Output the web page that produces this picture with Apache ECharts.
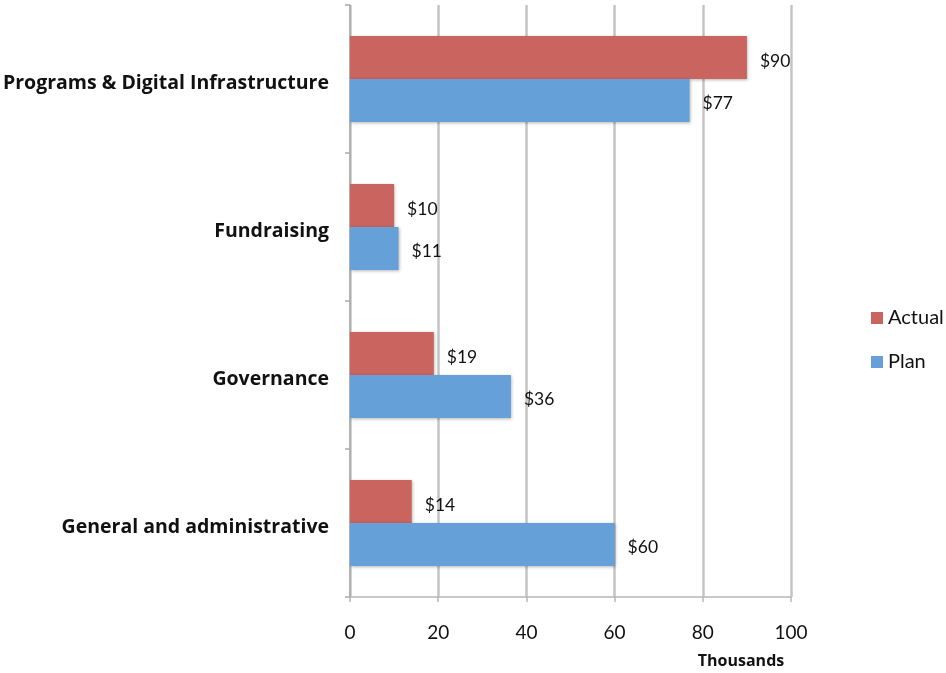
<!DOCTYPE html>
<html>
<head>
<meta charset="utf-8">
<script src="https://cdn.jsdelivr.net/npm/echarts@6/dist/echarts.min.js"></script>
<style>html,body{margin:0;padding:0;background:#fff;}#c{width:946px;height:673px;}</style>
</head>
<body>
<div id="c"></div>
<script>
const categories = ['Programs & Digital Infrastructure', 'Fundraising', 'Governance', 'General and administrative'];
const actualValues = [90, 10, 19, 14];
const planValues = [77, 11, 36.5, 60];
const actualLabels = ['$90', '$10', '$19', '$14'];
const planLabels = ['$77', '$11', '$36', '$60'];
const xTicks = [0, 20, 40, 60, 80, 100];

const font = 'Lato, "Open Sans", sans-serif';
const boldFont = '"Open Sans", Lato, sans-serif';
const chart = echarts.init(document.getElementById('c'));
const barShadow = {shadowBlur: 3, shadowOffsetX: 1, shadowOffsetY: 1, shadowColor: 'rgba(0,0,0,0.3)'};
chart.setOption({
  animation: false,
  grid: {left: 349, right: 155, top: 5, bottom: 76},
  legend: {
    orient: 'vertical', left: 866, top: 303,
    itemWidth: 12, itemHeight: 12, itemGap: 24,
    icon: 'rect',
    textStyle: {fontFamily: font, fontSize: 20, color: '#111'},
    data: ['Actual', 'Plan']
  },
  xAxis: {
    type: 'value', min: xTicks[0], max: xTicks[xTicks.length - 1], interval: 20,
    name: 'Thousands', nameLocation: 'end',
    nameGap: 0,
    nameTextStyle: {fontFamily: boldFont, fontSize: 16, fontWeight: 'bold', color: '#111', align: 'center', verticalAlign: 'top', padding: [56, 100, 0, 0]},
    axisLine: {show: true, lineStyle: {color: '#b8b8b8', width: 1.5}},
    axisTick: {show: true, length: 5, lineStyle: {color: '#b8b8b8', width: 1.5}},
    axisLabel: {fontFamily: font, fontSize: 19, color: '#111', margin: 26},
    splitLine: {show: true, lineStyle: {color: '#c4c4c4', width: 2.5}}
  },
  yAxis: {
    type: 'category', inverse: true, data: categories,
    axisLine: {show: true, lineStyle: {color: '#a8a8a8', width: 1.5}},
    axisTick: {show: true, length: 5, lineStyle: {color: '#a8a8a8', width: 1.5}},
    axisLabel: {
      margin: 21,
      formatter: v => '{c|' + v + '}',
      rich: {c: {fontFamily: boldFont, fontSize: 19.5, fontWeight: 'bold', color: '#111', padding: [8, 0, 0, 0]}}
    }
  },
  series: [
    {
      name: 'Actual', type: 'bar', data: actualValues, barWidth: 43, barGap: '0%',
      itemStyle: Object.assign({color: '#C9645F'}, barShadow),
      label: {show: true, position: 'right', distance: 13, offset: [0, 4], fontFamily: font, fontSize: 17.5, color: '#111',
        formatter: p => actualLabels[p.dataIndex]}
    },
    {
      name: 'Plan', type: 'bar', data: planValues, barWidth: 43, barGap: '0%',
      itemStyle: Object.assign({color: '#66A0D9'}, barShadow),
      label: {show: true, position: 'right', distance: 13, offset: [0, 3], fontFamily: font, fontSize: 17.5, color: '#111',
        formatter: p => planLabels[p.dataIndex]}
    }
  ]
});
</script>
</body>
</html>
